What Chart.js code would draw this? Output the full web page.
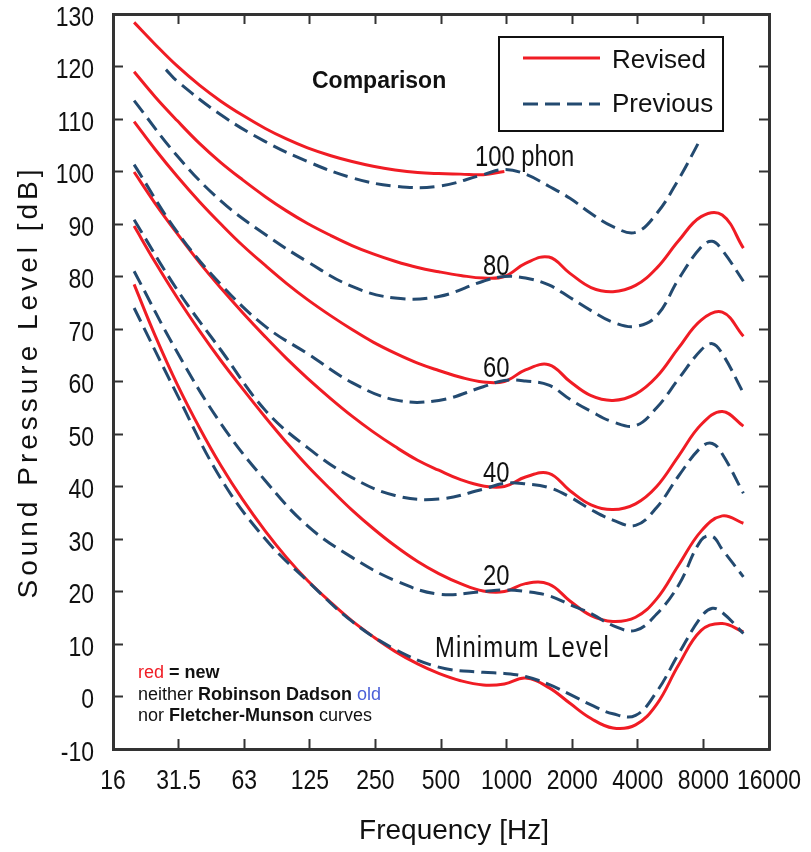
<!DOCTYPE html>
<html>
<head>
<meta charset="utf-8">
<script src="https://cdn.jsdelivr.net/npm/chart.js@4.4.0/dist/chart.umd.min.js"></script>
<style>
  html, body { margin: 0; padding: 0; background: #fff; }
  canvas { display: block; }
</style>
</head>
<body>
<canvas id="chart" width="811" height="852"></canvas>
<script>
// equal-loudness contours: revised (ISO 226) vs previous curves

const tickFreqs = [16, 32, 64, 128, 256, 512, 1024, 2048, 4096, 8192, 16384];
const tickLabels = ['16', '31.5', '63', '125', '250', '500', '1000', '2000', '4000', '8000', '16000'];

// revised curves (solid red)
const revisedFreqs = [20, 25, 31.5, 40, 50, 63, 80, 100, 125, 160, 200, 250, 315, 400, 500, 630, 800, 1000, 1250, 1600, 2000, 2500, 3150, 4000, 5000, 6300, 8000, 10000, 12500];
const revisedMin = [78.5, 68.7, 59.5, 51.1, 44.0, 37.5, 31.5, 26.5, 22.1, 17.9, 14.4, 11.4, 8.6, 6.2, 4.4, 3.0, 2.2, 2.4, 3.5, 1.7, -1.3, -4.2, -6.0, -5.4, -1.5, 6.0, 12.6, 13.9, 12.3];
const revised20 = [89.6, 82.7, 76.0, 69.6, 64.0, 58.6, 53.2, 48.4, 43.9, 39.4, 35.5, 32.0, 28.7, 25.7, 23.4, 21.5, 20.1, 20.0, 21.5, 21.4, 18.2, 15.4, 14.3, 15.1, 18.6, 25.0, 31.5, 34.4, 33.0];
const revised40 = [99.9, 93.9, 88.2, 82.6, 77.8, 73.1, 68.5, 64.4, 60.6, 56.7, 53.4, 50.4, 47.6, 45.0, 43.1, 41.3, 40.1, 40.0, 41.8, 42.5, 39.2, 36.5, 35.6, 36.7, 40.0, 45.8, 51.8, 54.3, 51.5];
const revised60 = [109.5, 104.2, 99.1, 94.2, 90.0, 85.9, 82.1, 78.7, 75.6, 72.5, 69.9, 67.5, 65.4, 63.5, 62.1, 60.8, 59.9, 60.0, 62.2, 63.2, 60.0, 57.3, 56.4, 57.6, 60.9, 66.4, 71.7, 73.2, 68.6];
const revised80 = [119.0, 114.2, 109.7, 105.3, 101.7, 98.4, 95.2, 92.5, 90.1, 87.8, 85.9, 84.3, 82.9, 81.7, 80.9, 80.2, 79.7, 80.0, 82.5, 83.7, 80.6, 77.9, 77.1, 78.3, 81.6, 86.8, 91.4, 91.7, 85.4];
const revised100 = [128.4, 124.2, 120.1, 116.4, 113.4, 110.7, 108.2, 106.2, 104.5, 103.0, 101.9, 101.0, 100.3, 99.8, 99.6, 99.5, 99.4, 100.0, null, null, null, null, null, null, null, null, null, null, null];

// previous curves (dashed)
const previousFreqs = [20, 31.5, 50, 80, 125, 200, 315, 500, 800, 1000, 1250, 1600, 2000, 2500, 3150, 4000, 5000, 6300, 8000, 9000, 10000, 12500];
const previousMin = [74.0, 57.5, 41.5, 30.0, 22.0, 14.3, 9.0, 5.6, 4.6, 4.4, 3.8, 2.3, 0.4, -1.6, -3.3, -3.6, 0.9, 8.1, 15.2, 16.8, 16.0, 12.0];
const previous20 = [81.0, 65.6, 52.0, 41.1, 32.5, 26.5, 22.1, 19.5, 20.0, 20.3, 20.0, 19.2, 17.5, 15.8, 13.5, 12.6, 15.7, 21.2, 29.8, 30.5, 28.0, 22.8];
const previous40 = [90.8, 77.5, 66.0, 54.5, 47.4, 41.7, 38.3, 37.6, 39.5, 40.6, 40.5, 39.8, 38.0, 35.6, 33.6, 32.6, 36.0, 42.0, 47.5, 48.2, 46.2, 38.7];
const previous60 = [101.3, 88.5, 78.5, 70.5, 65.3, 59.8, 56.5, 56.4, 59.0, 60.2, 60.1, 59.3, 56.6, 54.3, 52.3, 51.6, 55.0, 60.5, 66.0, 67.2, 65.3, 57.8];
const previous80 = [113.5, 103.0, 94.4, 88.0, 82.8, 78.1, 75.9, 76.2, 79.1, 80.0, 79.7, 78.4, 76.0, 73.5, 71.3, 70.5, 72.5, 79.5, 85.6, 86.7, 85.0, 79.1];
const previous100Freqs = [28, 31.5, 50, 80, 125, 200, 315, 500, 800, 1000, 1250, 1600, 2000, 2500, 3150, 4000, 5000, 6300, 8000];
const previous100 = [119.4, 117.2, 110.8, 105.7, 101.9, 98.8, 97.2, 97.2, 99.4, 100.4, 99.5, 97.2, 94.9, 92.0, 89.5, 88.4, 92.0, 98.5, 106.4];

const seriesNames = ['Revised', 'Previous'];
const curveLabels = ['100 phon', '80', '60', '40', '20', 'Minimum Level'];
const xTitle = 'Frequency [Hz]';
const yTitle = 'Sound Pressure Level [dB]';

const RED = '#f01c24';
const BLUE = '#234a70';
const DASH = [15, 7];
const SANS = "'Liberation Sans', Arial, sans-serif";
const SQUEEZE = 0.82; // no narrow face installed, so squeeze the regular one

const toPoints = (freqs, vals) => freqs.map((f, i) => ({ x: f, y: vals[i] })).filter(p => p.y !== null);

const solid = vals => ({
  data: toPoints(revisedFreqs, vals),
  borderColor: RED,
  borderWidth: 3,
  order: 2
});
const dashed = (freqs, vals) => ({
  data: toPoints(freqs, vals),
  borderColor: BLUE,
  borderWidth: 3,
  borderDash: DASH,
  order: 1
});

const datasets = [
  dashed(previous100Freqs, previous100),
  dashed(previousFreqs, previous80),
  dashed(previousFreqs, previous60),
  dashed(previousFreqs, previous40),
  dashed(previousFreqs, previous20),
  dashed(previousFreqs, previousMin),
  solid(revised100),
  solid(revised80),
  solid(revised60),
  solid(revised40),
  solid(revised20),
  solid(revisedMin)
];

function narrowText(c, text, x, y, align) {
  c.save();
  c.translate(x, y);
  c.scale(SQUEEZE, 1);
  c.textAlign = align;
  c.fillText(text, 0, 0);
  c.restore();
}

// tick labels, titles, curve labels, legend box and the note
const overlay = {
  id: 'overlay',
  afterDraw(chart) {
    const c = chart.ctx;
    const { x: xs, y: ys } = chart.scales;
    c.save();
    c.fillStyle = '#111';

    c.font = '28px ' + SANS;
    c.textBaseline = 'middle';
    xs.ticks.forEach((t, i) => narrowText(c, tickLabels[i], xs.getPixelForValue(t.value), 781, 'center'));
    ys.ticks.forEach(t => narrowText(c, String(t.value), 94, ys.getPixelForValue(t.value) + 4, 'right'));

    c.textAlign = 'center';
    c.fillText(xTitle, 454, 831);
    c.save();
    c.translate(29, 382);
    c.rotate(-Math.PI / 2);
    c.letterSpacing = '4px';
    c.fillText(yTitle, 0, 0);
    c.restore();

    c.textAlign = 'left';
    c.textBaseline = 'alphabetic';
    c.font = 'bold 23px ' + SANS;
    c.fillText('Comparison', 312, 88);

    const spots = [[475, 166], [483, 275], [483, 377], [483, 482], [483, 585], [435, 657]];
    c.font = '29px ' + SANS;
    curveLabels.forEach((t, i) => {
      if (i === curveLabels.length - 1) c.letterSpacing = '1.4px';
      narrowText(c, t, spots[i][0], spots[i][1], 'left');
    });
    c.letterSpacing = '0px';

    // legend
    c.lineWidth = 2;
    c.strokeStyle = '#111';
    c.strokeRect(499, 37, 224, 94);
    c.lineWidth = 3;
    c.strokeStyle = RED;
    c.beginPath(); c.moveTo(523, 58); c.lineTo(600, 58); c.stroke();
    c.strokeStyle = BLUE;
    c.setLineDash(DASH);
    c.beginPath(); c.moveTo(523, 104); c.lineTo(600, 104); c.stroke();
    c.setLineDash([]);
    c.font = '26px ' + SANS;
    c.textBaseline = 'middle';
    c.fillText(seriesNames[0], 612, 61);
    c.fillText(seriesNames[1], 612, 105);

    // note in the lower left corner
    c.textBaseline = 'alphabetic';
    const parts = [
      [['red', RED, ''], [' = new', '#111', 'bold ']],
      [['neither ', '#111', ''], ['Robinson Dadson ', '#111', 'bold '], ['old', '#4a5fd8', '']],
      [['nor ', '#111', ''], ['Fletcher-Munson ', '#111', 'bold '], ['curves', '#111', '']]
    ];
    const base = [678, 700, 721];
    parts.forEach((line, j) => {
      let x = 138;
      line.forEach(([t, col, w]) => {
        c.font = w + '18px ' + SANS;
        c.fillStyle = col;
        c.fillText(t, x, base[j]);
        x += c.measureText(t).width;
      });
    });
    c.restore();
  }
};

const frame = { display: true, width: 3, color: '#333' };
const inner = { drawOnChartArea: false, tickLength: -10, tickWidth: 2, color: '#333' };
const octaves = s => { s.ticks = tickFreqs.map(v => ({ value: v })); };

new Chart(document.getElementById('chart'), {
  type: 'line',
  data: { datasets },
  options: {
    responsive: false,
    animation: false,
    layout: { padding: { top: 14, right: 42, left: 0, bottom: 0 } },
    elements: {
      point: { radius: 0 },
      line: { tension: 0.4, fill: false }
    },
    plugins: { legend: { display: false }, tooltip: { enabled: false } },
    scales: {
      x: {
        type: 'logarithmic', position: 'bottom', min: 16, max: 16384,
        afterBuildTicks: octaves,
        afterFit: s => { s.height = 103; },
        ticks: { display: false },
        grid: inner, border: frame
      },
      xTop: {
        type: 'logarithmic', position: 'top', min: 16, max: 16384,
        afterBuildTicks: octaves,
        afterFit: s => { s.height = 0; },
        ticks: { display: false },
        grid: inner, border: frame
      },
      y: {
        type: 'linear', position: 'left', min: -10, max: 130,
        afterFit: s => { s.width = 113; },
        ticks: { stepSize: 10, display: false },
        grid: inner, border: frame
      },
      yRight: {
        type: 'linear', position: 'right', min: -10, max: 130,
        afterFit: s => { s.width = 0; },
        ticks: { stepSize: 10, display: false },
        grid: inner, border: frame
      }
    }
  },
  plugins: [overlay]
});
</script>
</body>
</html>
